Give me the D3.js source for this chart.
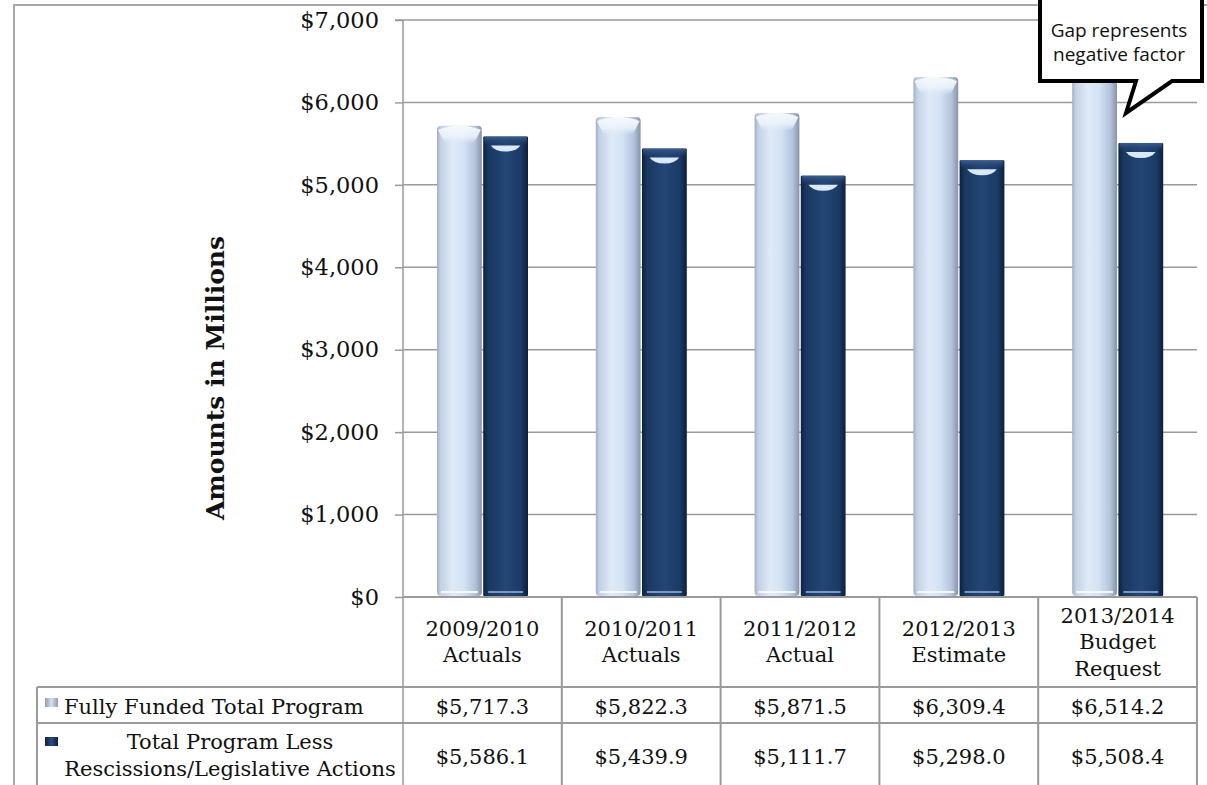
<!DOCTYPE html>
<html>
<head>
<meta charset="utf-8">
<script src="https://cdn.jsdelivr.net/npm/d3@7/dist/d3.min.js"></script>
<style>
  html, body { margin: 0; padding: 0; background: #fff; }
  svg { display: block; }
  text { font-family: "DejaVu Serif", Georgia, serif; fill: #111; }
</style>
</head>
<body>
<svg id="chart" width="1207" height="785"></svg>
<script>
// ---- data ----
const categories = ["2009/2010 Actuals", "2010/2011 Actuals", "2011/2012 Actual", "2012/2013 Estimate", "2013/2014 Budget Request"];
const categoryLines = [["2009/2010", "Actuals"], ["2010/2011", "Actuals"], ["2011/2012", "Actual"], ["2012/2013", "Estimate"], ["2013/2014", "Budget", "Request"]];
const seriesNames = ["Fully Funded Total Program", "Total Program Less Rescissions/Legislative Actions"];
const fullyFunded = [5717.3, 5822.3, 5871.5, 6309.4, 6514.2];
const lessRescissions = [5586.1, 5439.9, 5111.7, 5298.0, 5508.4];
const yTicks = [0, 1000, 2000, 3000, 4000, 5000, 6000, 7000];
const yTitle = "Amounts in Millions";
const calloutLines = ["Gap represents", "negative factor"];

// ---- layout ----
const svg = d3.select("#chart");
const W = 1207, H = 785;
const plotL = 403, plotR = 1197, plotT = 20, plotB = 597;
const row1T = 687, row2T = 723, legendL = 37;
const gridColor = "#9a9a9a";
const fs = 21;

const x = d3.scaleBand().domain(categories).range([plotL, plotR]).paddingInner(0).paddingOuter(0);
const xs = d3.scaleBand().domain([0, 1]).range([34, 125]).paddingInner(0.03);
const y = d3.scaleLinear().domain([0, 7000]).range([plotB, plotT]);

// gradients
const defs = svg.append("defs");
function hGrad(id, stops) {
  const g = defs.append("linearGradient").attr("id", id).attr("x1", 0).attr("x2", 1).attr("y1", 0).attr("y2", 0);
  stops.forEach(s => g.append("stop").attr("offset", s[0]).attr("stop-color", s[1]));
}
function vGrad(id, stops) {
  const g = defs.append("linearGradient").attr("id", id).attr("x1", 0).attr("x2", 0).attr("y1", 0).attr("y2", 1);
  stops.forEach(s => g.append("stop").attr("offset", s[0]).attr("stop-color", s[1]).attr("stop-opacity", s[2] == null ? 1 : s[2]));
}
hGrad("lightBar", [[0, "#a3aec2"], [0.08, "#c3d1e6"], [0.35, "#dfeaf8"], [0.6, "#d3e2f4"], [0.85, "#b3c3dc"], [1, "#8893a8"]]);
hGrad("darkBar", [[0, "#0d2240"], [0.12, "#1a3861"], [0.5, "#234676"], [0.85, "#1b3a66"], [1, "#0b1f3c"]]);
vGrad("lightCap", [[0, "#f7fafe", 1], [0.6, "#ecf3fb", 0.85], [1, "#dfeaf8", 0]]);
vGrad("darkCap", [[0, "#3d5f8f", 1], [1, "#1d3c69", 0]]);

// outer frame
svg.append("path").attr("d", `M14,785 L14,5 L${W},5`).attr("fill", "none").attr("stroke", "#a8a8a8").attr("stroke-width", 2);

// gridlines
svg.append("g").selectAll("line").data(yTicks.filter(d => d > 0)).join("line")
  .attr("x1", plotL).attr("x2", plotR).attr("y1", d => y(d)).attr("y2", d => y(d))
  .attr("stroke", gridColor).attr("stroke-width", 1.5);

// y axis
const yAxis = d3.axisLeft(y).tickValues(yTicks).tickSize(8).tickPadding(16).tickFormat(d => "$" + d3.format(",")(d));
const yg = svg.append("g").attr("transform", `translate(${plotL},0)`).call(yAxis);
yg.select(".domain").attr("stroke", gridColor).attr("stroke-width", 1.5).attr("d", `M-8,${plotT}H0V${H}`);
yg.selectAll(".tick line").attr("stroke", gridColor).attr("stroke-width", 1.5);
yg.selectAll(".tick text").attr("font-size", 22.5).style("font-family", "'DejaVu Serif', serif").attr("fill", "#111");

// y title
svg.append("text").attr("transform", `translate(224,378) rotate(-90)`).attr("text-anchor", "middle")
  .attr("font-size", 25).attr("font-weight", "bold").text(yTitle);

// bars
const seriesData = [fullyFunded, lessRescissions];
seriesData.forEach((vals, si) => {
  const g = svg.append("g");
  const bw = xs.bandwidth();
  const bars = g.selectAll("g").data(vals.map((v, i) => ({ v, c: categories[i] }))).join("g")
    .attr("transform", d => `translate(${x(d.c) + xs(si)},0)`);
  bars.append("rect").attr("x", 0).attr("width", bw)
    .attr("y", d => y(d.v)).attr("height", d => plotB - y(d.v) - 1)
    .attr("rx", si === 0 ? 4 : 1)
    .attr("fill", si === 0 ? "url(#lightBar)" : "url(#darkBar)");
  if (si === 0) {
    bars.append("path").attr("d", d => {
      const t = y(d.v);
      return `M1,${t + 4} Q${bw / 2},${t - 4} ${bw - 1},${t + 4} L${bw - 7},${t + 16} Q${bw / 2},${t + 21} 7,${t + 16} Z`;
    }).attr("fill", "url(#lightCap)");
    bars.append("line").attr("x1", 4).attr("x2", bw - 4)
      .attr("y1", plotB - 5).attr("y2", plotB - 5).attr("stroke", "#f5f9ff").attr("stroke-width", 2);
  } else {
    bars.append("rect").attr("x", 1).attr("width", bw - 2).attr("y", d => y(d.v)).attr("height", 9)
      .attr("fill", "url(#darkCap)");
    bars.append("path").attr("d", d => {
      const t = y(d.v) + 9;
      return `M${bw * 0.17},${t} L${bw * 0.83},${t} Q${bw * 0.74},${t + 6} ${bw * 0.5},${t + 6} Q${bw * 0.26},${t + 6} ${bw * 0.17},${t} Z`;
    }).attr("fill", "#dbe8f8");
    bars.append("line").attr("x1", 5).attr("x2", bw - 5)
      .attr("y1", plotB - 5).attr("y2", plotB - 5).attr("stroke", "#7c97bf").attr("stroke-width", 2);
  }
});

// x baseline
svg.append("line").attr("x1", plotL).attr("x2", plotR).attr("y1", plotB).attr("y2", plotB)
  .attr("stroke", gridColor).attr("stroke-width", 2);

// table lines
const tbl = svg.append("g").attr("stroke", gridColor).attr("stroke-width", 2);
[row1T, row2T].forEach(yy => tbl.append("line").attr("x1", legendL).attr("x2", plotR).attr("y1", yy).attr("y2", yy));
tbl.append("line").attr("x1", legendL).attr("x2", legendL).attr("y1", row1T).attr("y2", H);
tbl.selectAll(".vdiv").data(categories).join("line").attr("class", "vdiv")
  .attr("x1", d => x(d) + x.bandwidth()).attr("x2", d => x(d) + x.bandwidth())
  .attr("y1", plotB).attr("y2", H);

// category labels
const lh = 26.5;
svg.append("g").selectAll("text").data(categoryLines).join("text")
  .attr("text-anchor", "middle").attr("font-size", fs)
  .attr("x", (d, i) => x(categories[i]) + x.bandwidth() / 2)
  .attr("y", d => 642 - (d.length - 1) * lh / 2 + 7)
  .each(function (d) {
    const t = d3.select(this);
    d.forEach((line, j) => t.append("tspan").attr("x", t.attr("x")).attr("dy", j === 0 ? 0 : lh).text(line));
  });

// value rows
const fmt = v => "$" + d3.format(",.1f")(v);
[[fullyFunded, 707], [lessRescissions, 757]].forEach(([vals, cy]) => {
  svg.append("g").selectAll("text").data(vals).join("text")
    .attr("text-anchor", "middle").attr("font-size", fs)
    .attr("x", (d, i) => x(categories[i]) + x.bandwidth() / 2)
    .attr("y", cy + 7).text(fmt);
});

// legend
hGrad("legLight", [[0, "#8f9bb0"], [0.5, "#d5e1f1"], [1, "#8f9bb0"]]);
hGrad("legDark", [[0, "#0d2240"], [0.5, "#2a4c7e"], [1, "#0d2240"]]);
svg.append("rect").attr("x", 45).attr("y", 698).attr("width", 13).attr("height", 9).attr("fill", "url(#legLight)");
svg.append("rect").attr("x", 45).attr("y", 737).attr("width", 13).attr("height", 9).attr("fill", "url(#legDark)");
svg.append("text").attr("x", 64).attr("y", 714).attr("font-size", fs).text(seriesNames[0]);
const l2 = svg.append("text").attr("text-anchor", "middle").attr("font-size", fs).attr("y", 749);
l2.append("tspan").attr("x", 230).text("Total Program Less");
l2.append("tspan").attr("x", 230).attr("dy", lh).text("Rescissions/Legislative Actions");

// callout
svg.append("path")
  .attr("d", "M1040,-4 L1202,-4 L1202,81 L1172,81 L1126,113 L1136,81 L1040,81 Z")
  .attr("fill", "#fff").attr("stroke", "#000").attr("stroke-width", 4).attr("stroke-linejoin", "miter");
svg.append("g").selectAll("text").data(calloutLines).join("text")
  .attr("x", 1119).attr("y", (d, i) => 37 + i * 24).attr("text-anchor", "middle")
  .style("font-family", "'Open Sans', sans-serif").attr("font-size", 19).attr("fill", "#111").text(d => d);
</script>
</body>
</html>
